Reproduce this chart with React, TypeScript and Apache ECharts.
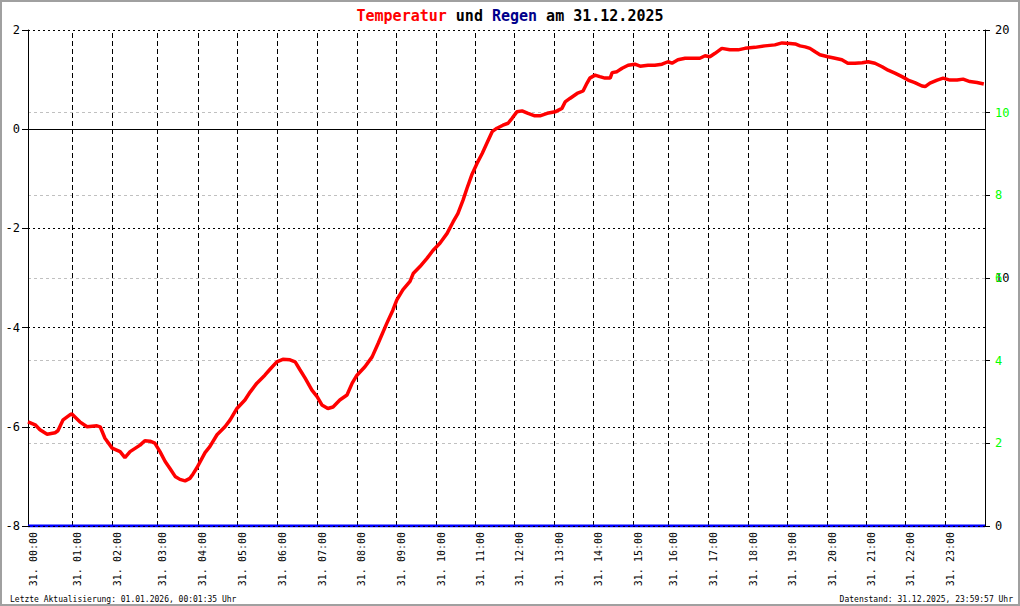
import React, { useEffect, useRef } from "react";
import * as echarts from "echarts";

// x positions are in axis hours (0..24)
const hourTicks = [0, 1.12, 2.11, 3.24, 4.26, 5.25, 6.25, 7.25, 8.25, 9.24, 10.25, 11.22, 12.19, 13.2, 14.18, 15.18, 16.06, 17.06, 18.06, 19.04, 20.05, 21.02, 22.0, 23.0];
const hourLabels = [
  "31. 00:00", "31. 01:00", "31. 02:00", "31. 03:00", "31. 04:00", "31. 05:00",
  "31. 06:00", "31. 07:00", "31. 08:00", "31. 09:00", "31. 10:00", "31. 11:00",
  "31. 12:00", "31. 13:00", "31. 14:00", "31. 15:00", "31. 16:00", "31. 17:00",
  "31. 18:00", "31. 19:00", "31. 20:00", "31. 21:00", "31. 22:00", "31. 23:00",
];

const tempPos = [
  0.0, 0.18, 0.3, 0.48, 0.68, 0.75, 0.88, 1.05, 1.1, 1.3, 1.48, 1.73, 1.81, 1.93,
  2.11, 2.31, 2.43, 2.56, 2.81, 2.93, 3.06, 3.18, 3.31, 3.44, 3.56, 3.69, 3.81, 3.94,
  4.06, 4.14, 4.24, 4.44, 4.56, 4.74, 4.94, 5.07, 5.24, 5.44, 5.57, 5.74, 5.94,
  6.07, 6.24, 6.39, 6.57, 6.7, 6.82, 6.95, 7.12, 7.25, 7.37, 7.52, 7.65, 7.82,
  8.0, 8.13, 8.25, 8.45, 8.63, 8.78, 9.0, 9.15, 9.25, 9.4, 9.58, 9.66, 9.83,
  10.01, 10.16, 10.33, 10.51, 10.66, 10.78, 10.91, 11.01, 11.13, 11.26, 11.39,
  11.51, 11.64, 11.76, 11.91, 12.04, 12.14, 12.26, 12.39, 12.54, 12.71, 12.84,
  13.02, 13.22, 13.39, 13.47, 13.59, 13.77, 13.92, 14.02, 14.09, 14.22, 14.34,
  14.47, 14.6, 14.65, 14.77, 14.9, 15.05, 15.22, 15.35, 15.55, 15.72, 15.9,
  16.05, 16.15, 16.3, 16.48, 16.85, 16.98, 17.1, 17.23, 17.4, 17.6, 17.81, 17.98,
  18.23, 18.48, 18.73, 18.91, 19.11, 19.24, 19.36, 19.49, 19.61, 19.74, 19.86,
  20.06, 20.24, 20.41, 20.56, 20.74, 20.92, 21.07, 21.24, 21.42, 21.57, 21.74,
  21.92, 22.07, 22.24, 22.42, 22.5, 22.62, 22.8, 22.95, 23.12, 23.3, 23.45,
  23.62, 23.8, 23.97,
];
const tempVals = [
  -5.9, -5.96, -6.06, -6.15, -6.12, -6.08, -5.86, -5.76, -5.74, -5.9, -6.0, -5.98, -6.0, -6.23,
  -6.43, -6.5, -6.62, -6.5, -6.37, -6.28, -6.29, -6.33, -6.5, -6.7, -6.84, -7.0, -7.06, -7.09,
  -7.04, -6.95, -6.82, -6.52, -6.4, -6.16, -6.0, -5.86, -5.63, -5.46, -5.3, -5.12, -4.96,
  -4.84, -4.69, -4.64, -4.65, -4.69, -4.85, -5.02, -5.26, -5.39, -5.56, -5.63, -5.6, -5.46,
  -5.36, -5.12, -4.96, -4.79, -4.59, -4.32, -3.91, -3.65, -3.44, -3.24, -3.07, -2.91, -2.77,
  -2.6, -2.44, -2.3, -2.1, -1.87, -1.7, -1.43, -1.19, -0.92, -0.69, -0.49,
  -0.28, -0.05, 0.02, 0.08, 0.12, 0.22, 0.35, 0.37, 0.32, 0.27, 0.27,
  0.32, 0.35, 0.42, 0.55, 0.62, 0.72, 0.77, 0.93, 1.03, 1.09, 1.06,
  1.03, 1.03, 1.14, 1.16, 1.23, 1.29, 1.31, 1.27, 1.29, 1.29, 1.31,
  1.36, 1.33, 1.4, 1.43, 1.43, 1.48, 1.46, 1.53, 1.63, 1.6, 1.6, 1.63,
  1.65, 1.68, 1.7, 1.74, 1.73, 1.72, 1.68, 1.66, 1.63, 1.56, 1.5,
  1.46, 1.43, 1.4, 1.33, 1.33, 1.34, 1.36, 1.33, 1.26, 1.19, 1.13,
  1.06, 0.99, 0.94, 0.87, 0.86, 0.93, 0.99, 1.03, 0.99, 0.99, 1.01,
  0.96, 0.94, 0.91,
];

const rainPos = [0, 24];
const rainVals = [0, 0];

const tempTicks = [-8, -6, -4, -2, 0, 2];
const rainTicksBlack = [0, 10, 20];
const rainTicksGreen = [2, 4, 6, 8, 10];

const MONO = '"DejaVu Sans Mono", "Liberation Mono", monospace';

export default function App() {
  const ref = useRef<HTMLDivElement>(null);
  useEffect(() => {
    if (!ref.current) return;
    const chart = echarts.init(ref.current, undefined, { renderer: "svg" });
    const tempData = tempPos.map((x, i) => [x, tempVals[i]]);
    const rainData = rainPos.map((x, i) => [x, rainVals[i]]);
    chart.setOption({
      animation: false,
      backgroundColor: "#ffffff",
      title: {
        text: "{r|Temperatur} {k|und} {b|Regen} {k|am 31.12.2025}",
        left: "center",
        top: 3,
        textStyle: {
          fontFamily: MONO,
          fontSize: 15,
          fontWeight: "bold",
          color: "#000",
          rich: {
            r: { color: "#ff0000", fontFamily: MONO, fontSize: 15, fontWeight: "bold" },
            b: { color: "#00008b", fontFamily: MONO, fontSize: 15, fontWeight: "bold" },
            k: { color: "#000000", fontFamily: MONO, fontSize: 15, fontWeight: "bold" },
          },
        },
      },
      grid: { left: 28, right: 35, top: 30, bottom: 80, containLabel: false, outerBoundsMode: "none" },
      xAxis: {
        type: "value",
        min: 0,
        max: 24,
        axisLine: { show: false },
        axisTick: { show: false },
        splitLine: { show: false },
        axisLabel: {
          customValues: hourTicks,
          rotate: 90,
          margin: 6,
          verticalAlign: "top",
          fontFamily: MONO,
          fontSize: 10,
          color: "#000",
          formatter: (v: number) => {
            const i = hourTicks.indexOf(v);
            return i >= 0 ? hourLabels[i] : "";
          },
        },
      },
      yAxis: [
        {
          type: "value",
          min: tempTicks[0],
          max: tempTicks[tempTicks.length - 1],
          interval: 2,
          position: "left",
          axisLine: { show: true, lineStyle: { color: "#000", width: 1 } },
          axisTick: { show: true, length: 6, lineStyle: { color: "#000" } },
          axisLabel: { margin: 8, fontFamily: MONO, fontSize: 12, color: "#000" },
          splitLine: { show: true, lineStyle: { color: "#000", width: 1, type: [2, 3] } },
        },
        {
          type: "value",
          min: rainTicksBlack[0],
          max: rainTicksBlack[rainTicksBlack.length - 1],
          interval: 10,
          position: "right",
          axisLine: { show: true, lineStyle: { color: "#000", width: 1 } },
          axisTick: { show: true, length: 5, lineStyle: { color: "#000" } },
          axisLabel: { margin: 10, fontFamily: MONO, fontSize: 12, color: "#000" },
          splitLine: { show: false },
        },
        {
          type: "value",
          min: 0,
          max: 12,
          interval: 2,
          position: "right",
          axisLine: { show: false },
          axisTick: { show: true, length: 5, lineStyle: { color: "#000" } },
          axisLabel: {
            margin: 10,
            fontFamily: MONO,
            fontSize: 12,
            color: "#00ff00",
            formatter: (v: number) => (rainTicksGreen.indexOf(v) >= 0 ? String(v) : ""),
          },
          splitLine: {
            show: true,
            showMinLine: false,
            showMaxLine: false,
            lineStyle: { color: "#c0c0c0", width: 1, type: [3, 3] },
          },
        },
      ],
      series: [
        {
          name: "Regen",
          type: "line",
          xAxisIndex: 0,
          yAxisIndex: 1,
          data: rainData,
          showSymbol: false,
          z: 2,
          lineStyle: { color: "#0000ff", width: 3 },
          markLine: {
            silent: true,
            symbol: "none",
            z: 6,
            label: { show: false },
            lineStyle: { color: "#000", width: 1, type: [2, 3] },
            data: [{ yAxis: 0 }],
          },
        },
        {
          name: "Temperatur",
          type: "line",
          xAxisIndex: 0,
          yAxisIndex: 0,
          data: tempData,
          showSymbol: false,
          z: 3,
          lineStyle: { color: "#ff0000", width: 3.5 },
          markLine: {
            silent: true,
            symbol: "none",
            z: 1,
            label: { show: false },
            data: [
              ...hourTicks.slice(1).map((h) => ({
                xAxis: h,
                lineStyle: { color: "#000", width: 1, type: [5, 3] },
              })),
              { yAxis: 0, lineStyle: { color: "#000", width: 1, type: "solid" } },
            ],
          },
        },
      ],
      graphic: [
        {
          type: "text",
          left: 10,
          top: 595,
          style: {
            text: "Letzte Aktualisierung: 01.01.2026, 00:01:35 Uhr",
            font: `8px ${MONO}`,
            fill: "#000",
          },
        },
        {
          type: "text",
          right: 7,
          top: 595,
          style: {
            text: "Datenstand: 31.12.2025, 23:59:57 Uhr",
            font: `8px ${MONO}`,
            fill: "#000",
          },
        },
        {
          type: "rect",
          z: 100,
          silent: true,
          shape: { x: 1, y: 1, width: 1018, height: 604 },
          style: { fill: "none", stroke: "#a0a0a0", lineWidth: 2 },
        },
      ],
    });
    return () => chart.dispose();
  }, []);
  return (
    <div
      ref={ref}
      style={{ position: "fixed", left: 0, top: 0, width: 1020, height: 606 }}
    />
  );
}
